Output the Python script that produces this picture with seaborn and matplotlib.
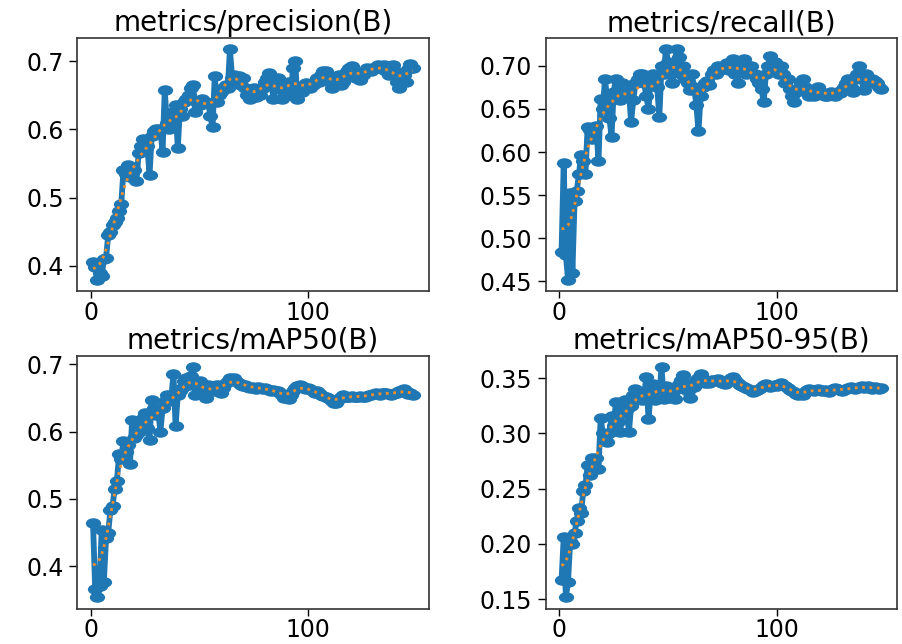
import numpy as np
import pandas as pd
import matplotlib
matplotlib.use("Agg")
import matplotlib.pyplot as plt
from matplotlib.path import Path
from matplotlib.transforms import Affine2D
import seaborn as sns

# --- data (epochs 1..148) ---
titles = ["metrics/precision(B)", "metrics/recall(B)",
          "metrics/mAP50(B)", "metrics/mAP50-95(B)"]

precision = [
    0.405, 0.398, 0.380, 0.390, 0.385, 0.410, 0.412, 0.445, 0.450, 0.460,
    0.465, 0.470, 0.480, 0.490, 0.540, 0.535, 0.548, 0.530, 0.545, 0.540,
    0.525, 0.565, 0.575, 0.586, 0.580, 0.575, 0.533, 0.590, 0.598, 0.600,
    0.595, 0.600, 0.567, 0.657, 0.610, 0.600, 0.615, 0.625, 0.635, 0.572,
    0.630, 0.620, 0.640, 0.645, 0.650, 0.660, 0.665, 0.625, 0.640, 0.635,
    0.645, 0.640, 0.640, 0.638, 0.620, 0.603, 0.678, 0.640, 0.650, 0.655,
    0.660, 0.665, 0.660, 0.717, 0.675, 0.680, 0.672, 0.678, 0.665, 0.675,
    0.660, 0.650, 0.645, 0.650, 0.660, 0.648, 0.655, 0.650, 0.660, 0.670,
    0.675, 0.683, 0.670, 0.645, 0.660, 0.675, 0.660, 0.645, 0.655, 0.660,
    0.670, 0.650, 0.690, 0.700, 0.645, 0.660, 0.655, 0.665, 0.668, 0.665,
    0.660, 0.665, 0.670, 0.675, 0.670, 0.680, 0.686, 0.685, 0.680, 0.670,
    0.660, 0.665, 0.675, 0.680, 0.665, 0.670, 0.680, 0.685, 0.690, 0.693,
    0.685, 0.675, 0.680, 0.672, 0.680, 0.685, 0.690, 0.688, 0.685, 0.690,
    0.692, 0.695, 0.690, 0.688, 0.695, 0.685, 0.680, 0.690, 0.695, 0.685,
    0.670, 0.660, 0.675, 0.680, 0.670, 0.688, 0.696, 0.690,
]

recall = [
    0.484, 0.587, 0.480, 0.452, 0.553, 0.460, 0.543, 0.555, 0.574, 0.597,
    0.590, 0.575, 0.629, 0.625, 0.615, 0.628, 0.630, 0.589, 0.662, 0.650,
    0.685, 0.660, 0.640, 0.618, 0.670, 0.685, 0.672, 0.660, 0.680, 0.675,
    0.665, 0.670, 0.635, 0.660, 0.680, 0.685, 0.690, 0.690, 0.680, 0.665,
    0.650, 0.685, 0.690, 0.680, 0.675, 0.641, 0.700, 0.690, 0.719, 0.705,
    0.690, 0.680, 0.700, 0.719, 0.710, 0.690, 0.700, 0.685, 0.680, 0.672,
    0.690, 0.675, 0.655, 0.624, 0.665, 0.675, 0.680, 0.683, 0.678, 0.690,
    0.695, 0.690, 0.700, 0.695, 0.698, 0.700, 0.703, 0.695, 0.700, 0.708,
    0.690, 0.680, 0.705, 0.700, 0.708, 0.690, 0.695, 0.700, 0.690, 0.690,
    0.685, 0.680, 0.673, 0.658, 0.690, 0.700, 0.711, 0.700, 0.705, 0.695,
    0.690, 0.700, 0.690, 0.680, 0.685, 0.673, 0.665, 0.658, 0.670, 0.673,
    0.680, 0.685, 0.675, 0.670, 0.665, 0.668, 0.665, 0.672, 0.675, 0.670,
    0.668, 0.665, 0.665, 0.668, 0.670, 0.668, 0.665, 0.670, 0.668, 0.672,
    0.675, 0.680, 0.685, 0.675, 0.670, 0.685, 0.690, 0.700, 0.685, 0.672,
    0.690, 0.685, 0.680, 0.685, 0.683, 0.680, 0.675, 0.673,
]

map50 = [
    0.464, 0.366, 0.354, 0.370, 0.454, 0.376, 0.442, 0.450, 0.483, 0.490,
    0.515, 0.527, 0.566, 0.560, 0.586, 0.570, 0.580, 0.552, 0.618, 0.590,
    0.595, 0.600, 0.612, 0.620, 0.627, 0.605, 0.588, 0.647, 0.635, 0.625,
    0.630, 0.600, 0.635, 0.645, 0.654, 0.645, 0.650, 0.686, 0.608, 0.655,
    0.660, 0.665, 0.675, 0.680, 0.670, 0.683, 0.696, 0.655, 0.672, 0.675,
    0.665, 0.660, 0.650, 0.670, 0.665, 0.660, 0.665, 0.670, 0.660, 0.658,
    0.665, 0.672, 0.675, 0.680, 0.678, 0.679, 0.675, 0.672, 0.670, 0.668,
    0.670, 0.667, 0.665, 0.667, 0.665, 0.664, 0.666, 0.665, 0.663, 0.665,
    0.664, 0.662, 0.660, 0.662, 0.661, 0.660, 0.658, 0.655, 0.650, 0.652,
    0.649, 0.655, 0.660, 0.665, 0.668, 0.669, 0.668, 0.665, 0.663, 0.665,
    0.664, 0.660, 0.658, 0.660, 0.657, 0.655, 0.653, 0.652, 0.650, 0.648,
    0.645, 0.643, 0.642, 0.648, 0.652, 0.654, 0.652, 0.651, 0.652, 0.653,
    0.652, 0.651, 0.652, 0.653, 0.652, 0.651, 0.653, 0.654, 0.655, 0.656,
    0.657, 0.656, 0.655, 0.657, 0.658, 0.657, 0.656, 0.655, 0.656, 0.657,
    0.658, 0.660, 0.662, 0.664, 0.660, 0.656, 0.657, 0.655,
]

map50_95 = [
    0.167, 0.206, 0.152, 0.166, 0.203, 0.200, 0.210, 0.221, 0.233, 0.228,
    0.248, 0.253, 0.271, 0.262, 0.278, 0.270, 0.278, 0.268, 0.314, 0.300,
    0.295, 0.292, 0.300, 0.316, 0.307, 0.328, 0.310, 0.301, 0.320, 0.330,
    0.322, 0.301, 0.325, 0.335, 0.340, 0.333, 0.337, 0.330, 0.335, 0.351,
    0.313, 0.336, 0.345, 0.330, 0.340, 0.334, 0.360, 0.331, 0.343, 0.332,
    0.338, 0.335, 0.331, 0.340, 0.345, 0.348, 0.353, 0.340, 0.338, 0.332,
    0.345, 0.342, 0.348, 0.350, 0.354, 0.348, 0.346, 0.347, 0.346, 0.348,
    0.347, 0.348, 0.349, 0.347, 0.346, 0.345, 0.347, 0.348, 0.350, 0.351,
    0.348, 0.346, 0.344, 0.343, 0.342, 0.341, 0.340, 0.339, 0.337, 0.338,
    0.339, 0.340, 0.342, 0.344, 0.345, 0.343, 0.342, 0.343, 0.344, 0.343,
    0.345, 0.346, 0.344, 0.343, 0.341, 0.339, 0.338, 0.337, 0.336, 0.335,
    0.336, 0.335, 0.337, 0.339, 0.340, 0.339, 0.338, 0.339, 0.340, 0.339,
    0.338, 0.339, 0.338, 0.337, 0.339, 0.340, 0.341, 0.340, 0.339, 0.338,
    0.339, 0.340, 0.341, 0.342, 0.341, 0.340, 0.341, 0.342, 0.343, 0.341,
    0.342, 0.343, 0.341, 0.340, 0.342, 0.341, 0.340, 0.341,
]

yticks = [
    [0.4, 0.5, 0.6, 0.7],
    [0.45, 0.50, 0.55, 0.60, 0.65, 0.70],
    [0.4, 0.5, 0.6, 0.7],
    [0.15, 0.20, 0.25, 0.30, 0.35],
]
ytick_fmt = ["{:.1f}", "{:.2f}", "{:.1f}", "{:.2f}"]
xticks = [0, 100]


def smooth(y, sigma=3.0):
    # gaussian smoothing like the training plot (reflect padding)
    y = np.asarray(y, dtype=float)
    r = int(4 * sigma + 0.5)
    k = np.exp(-0.5 * (np.arange(-r, r + 1) / sigma) ** 2)
    k /= k.sum()
    yp = np.pad(y, r, mode="symmetric")
    return np.convolve(yp, k, mode="valid")


# the reference image is stretched sideways, so the dots are wide ellipses
circ = Path.unit_circle()
wide_dot = Path(Affine2D().scale(1.45, 1.0).transform(circ.vertices), circ.codes)

series = [precision, recall, map50, map50_95]
epochs = np.arange(1, len(precision) + 1)

fig, axes = plt.subplots(2, 2, figsize=(9.03, 6.44), dpi=100)
plt.subplots_adjust(left=0.0853, right=0.9934, bottom=0.055, top=0.941,
                    wspace=0.333, hspace=0.255)

for ax, vals, title, yt, fmt in zip(axes.flat, series, titles, yticks, ytick_fmt):
    df = pd.DataFrame({"epoch": epochs, "value": vals})
    df["smooth"] = smooth(vals)
    sns.lineplot(data=df, x="epoch", y="value", ax=ax, color="#1f77b4",
                 marker=wide_dot, markersize=11, markeredgewidth=0,
                 linewidth=4.2)
    sns.lineplot(data=df, x="epoch", y="smooth", ax=ax, color="#f28e2b",
                 linestyle=":", linewidth=2)
    ax.set_title(title, fontsize=20, pad=5)
    ax.set_xlabel("")
    ax.set_ylabel("")
    ax.set_xticks(xticks)
    ax.set_yticks(yt)
    ax.set_yticklabels([fmt.format(t) for t in yt])
    ax.tick_params(labelsize=17, length=6, width=1)
    ax.tick_params(axis="x", length=5, pad=2)
    for sp in ax.spines.values():
        sp.set_linewidth(1.2)
        sp.set_color("#333333")

fig.savefig("out.png", dpi=100)
